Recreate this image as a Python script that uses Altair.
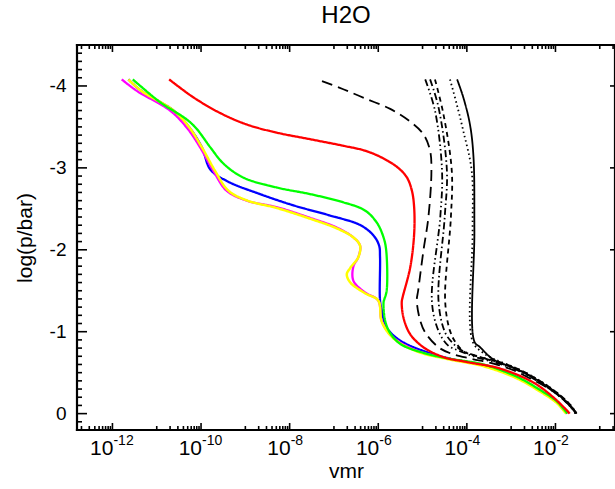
import altair as alt
import pandas as pd
import numpy as np

# ---------------- data (log10 vmr, log p/bar) ----------------
magenta_lx = [-11.79, -11.45, -10.70, -10.32, -10.02, -9.72, -9.42, -8.97, -8.29, -7.54, -6.93, -6.56, -6.41, -6.45, -6.56, -6.56, -6.30, -6.00, -5.92, -5.66, -5.13, -4.38, -3.63, -2.87, -2.35, -1.97, -1.74]
magenta_lp = [-4.08, -3.94, -3.70, -3.49, -3.25, -2.96, -2.72, -2.60, -2.52, -2.39, -2.27, -2.15, -2.05, -1.91, -1.80, -1.62, -1.48, -1.38, -1.13, -0.93, -0.77, -0.67, -0.59, -0.44, -0.28, -0.14, 0.00]

yellow_lx = [-11.64, -11.35, -10.62, -10.26, -9.98, -9.68, -9.38, -8.95, -8.29, -7.54, -6.93, -6.56, -6.41, -6.45, -6.63, -6.71, -6.63, -6.30, -6.00, -5.92, -5.66, -5.13, -4.38, -3.63, -2.87, -2.35, -1.97, -1.76]
yellow_lp = [-4.08, -3.94, -3.70, -3.49, -3.25, -2.96, -2.72, -2.60, -2.51, -2.38, -2.26, -2.15, -2.05, -1.91, -1.78, -1.70, -1.60, -1.47, -1.38, -1.12, -0.92, -0.76, -0.66, -0.58, -0.43, -0.27, -0.13, 0.00]

blue_lx = [-11.64, -11.35, -10.62, -10.26, -9.98, -9.79, -9.42, -8.67, -7.90, -7.10, -6.40, -6.10, -5.98, -5.96, -5.96, -5.92, -5.81, -5.50, -4.90, -4.38, -3.63, -2.87, -2.35, -1.97, -1.75]
blue_lp = [-4.08, -3.94, -3.70, -3.49, -3.25, -2.98, -2.84, -2.68, -2.54, -2.42, -2.30, -2.17, -2.05, -1.91, -1.38, -1.26, -1.05, -0.89, -0.75, -0.67, -0.59, -0.44, -0.28, -0.14, 0.00]

green_lx = [-11.54, -10.92, -10.32, -10.09, -9.79, -9.49, -9.04, -8.29, -7.54, -6.79, -6.30, -6.03, -5.88, -5.82, -5.81, -5.86, -5.88, -5.85, -5.75, -5.50, -4.90, -4.38, -3.63, -2.87, -2.35, -1.97, -1.73]
green_lp = [-4.08, -3.80, -3.59, -3.47, -3.25, -3.05, -2.88, -2.76, -2.68, -2.58, -2.48, -2.33, -2.15, -1.99, -1.50, -1.40, -1.36, -1.15, -1.00, -0.85, -0.73, -0.67, -0.60, -0.45, -0.29, -0.15, 0.00]

red_lx = [-10.72, -10.17, -9.57, -8.97, -8.29, -7.54, -6.79, -6.30, -5.90, -5.55, -5.35, -5.24, -5.19, -5.19, -5.28, -5.45, -5.47, -5.43, -5.28, -4.98, -4.53, -4.00, -3.25, -2.50, -2.05, -1.71, -1.68]
red_lp = [-4.08, -3.86, -3.67, -3.53, -3.43, -3.35, -3.27, -3.21, -3.12, -3.00, -2.88, -2.72, -2.52, -2.19, -1.78, -1.42, -1.36, -1.17, -0.97, -0.81, -0.69, -0.63, -0.55, -0.38, -0.20, -0.02, 0.00]

longdash_lx = [-7.27, -6.79, -6.26, -5.73, -5.29, -4.98, -4.83, -4.80, -4.87, -4.98, -5.10, -5.13, -5.05, -4.94, -4.64, -4.34, -3.90, -3.40, -2.95, -2.57, -2.05, -1.67, -1.56]
longdash_lp = [-4.06, -3.96, -3.84, -3.72, -3.57, -3.41, -3.21, -2.96, -2.39, -1.99, -1.50, -1.38, -1.13, -0.99, -0.81, -0.73, -0.67, -0.61, -0.53, -0.43, -0.27, -0.09, 0.00]

dashdotdot_lx = [-4.94, -4.72, -4.56, -4.60, -4.79, -4.64, -4.42, -4.19, -3.80, -3.40, -2.95, -2.57, -2.05, -1.67, -1.55]
dashdotdot_lp = [-4.08, -3.70, -2.96, -2.40, -1.38, -1.01, -0.83, -0.77, -0.69, -0.63, -0.55, -0.45, -0.27, -0.09, 0.00]

dashdot_lx = [-4.83, -4.64, -4.45, -4.50, -4.64, -4.49, -4.30, -4.11, -3.75, -3.40, -2.95, -2.57, -2.05, -1.67, -1.54]
dashdot_lp = [-4.08, -3.74, -2.96, -2.40, -1.38, -0.99, -0.85, -0.77, -0.70, -0.64, -0.56, -0.46, -0.28, -0.10, 0.00]

dashed_lx = [-4.72, -4.53, -4.34, -4.36, -4.49, -4.38, -4.23, -4.04, -3.70, -3.40, -2.95, -2.57, -2.05, -1.67, -1.53]
dashed_lp = [-4.08, -3.66, -2.96, -2.40, -1.38, -1.01, -0.85, -0.75, -0.69, -0.65, -0.57, -0.47, -0.29, -0.11, 0.00]

dotted_lx = [-4.38, -4.23, -4.08, -3.89, -3.87, -3.87, -3.65, -3.40, -2.95, -2.57, -2.05, -1.67, -1.52]
dotted_lp = [-4.08, -3.78, -3.45, -2.96, -2.23, -0.88, -0.75, -0.67, -0.57, -0.47, -0.29, -0.11, 0.00]

solid_lx = [-4.22, -4.08, -3.93, -3.85, -3.83, -3.83, -3.70, -3.40, -2.95, -2.57, -2.05, -1.67, -1.52]
solid_lp = [-4.08, -3.86, -3.53, -3.13, -2.23, -0.88, -0.81, -0.66, -0.56, -0.46, -0.28, -0.10, 0.00]

# series: name, lx, lp, color, dash, width (drawing order)
series = [
    ("blue", blue_lx, blue_lp, "#0000ff", [1, 0], 2.3),
    ("magenta", magenta_lx, magenta_lp, "#ff00ff", [1, 0], 2.3),
    ("yellow", yellow_lx, yellow_lp, "#ffff00", [1, 0], 2.5),
    ("green", green_lx, green_lp, "#00ff00", [1, 0], 2.3),
    ("red", red_lx, red_lp, "#ff0000", [1, 0], 2.3),
    ("longdash", longdash_lx, longdash_lp, "#000000", [11, 6], 1.8),
    ("dashdotdot", dashdotdot_lx, dashdotdot_lp, "#000000", [7, 3, 1.5, 3, 1.5, 3], 1.8),
    ("dashdot", dashdot_lx, dashdot_lp, "#000000", [7, 3, 1.5, 3], 1.8),
    ("dashed", dashed_lx, dashed_lp, "#000000", [5, 4], 1.8),
    ("dotted", dotted_lx, dotted_lp, "#000000", [1.5, 3], 1.8),
    ("solid", solid_lx, solid_lp, "#000000", [1, 0], 1.8),
]

x_major_exp = [-12, -10, -8, -6, -4, -2]
y_major = [-4, -3, -2, -1, 0]

LX_MIN, LX_MAX = -12.8, -0.656
Y_MIN, Y_MAX = -4.5, 0.2
X_MIN, X_MAX = 10 ** LX_MIN, 10 ** LX_MAX
W, H = 538, 385

FONT = "Liberation Sans"

xscale = alt.Scale(type="log", domain=[X_MIN, X_MAX], nice=False)
yscale = alt.Scale(domain=[Y_MIN, Y_MAX], reverse=True, nice=False, zero=False)

xax = alt.Axis(labels=False, ticks=False, domain=False, grid=False,
               title="vmr", titleFont=FONT, titleFontSize=21,
               titleFontWeight="normal", titleColor="black", titlePadding=30)
yax = alt.Axis(values=y_major, labelExpr="'' + datum.value", ticks=False,
               domain=False, grid=False, labelFont=FONT, labelFontSize=19,
               labelColor="black", labelPadding=11, title="log(p/bar)",
               titleFont=FONT, titleFontSize=21, titleFontWeight="normal",
               titleColor="black", titlePadding=14)

layers = []

# ---------------- data curves ----------------
for name, lx, lp, color, dash, width in series:
    df = pd.DataFrame({"lx": lx, "logp": lp, "i": range(len(lx))})
    layers.append(
        alt.Chart(df)
        .transform_calculate(vmr="pow(10, datum.lx)")
        .mark_line(color=color, strokeDash=dash, strokeWidth=width,
                   interpolate="catmull-rom", clip=True)
        .encode(x=alt.X("vmr:Q", scale=xscale, axis=xax),
                y=alt.Y("logp:Q", scale=yscale, axis=yax), order="i:Q")
    )

# ---------------- plot frame: four separate sides, same pipeline as the curves ----------------
sides = {
    "top": ([LX_MIN, LX_MAX], [Y_MIN, Y_MIN]),
    "bottom": ([LX_MIN, LX_MAX], [Y_MAX, Y_MAX]),
    "left": ([LX_MIN, LX_MIN], [Y_MIN, Y_MAX]),
    "right": ([LX_MAX, LX_MAX], [Y_MIN, Y_MAX]),
}
for side, (sx, sy) in sides.items():
    sdf = pd.DataFrame({"lx": sx, "logp": sy, "i": [0, 1]})
    layers.append(
        alt.Chart(sdf)
        .transform_calculate(vmr="pow(10, datum.lx)")
        .mark_line(color="#000000", strokeWidth=2.2, interpolate="linear", strokeCap="square")
        .encode(x=alt.X("vmr:Q", scale=xscale, axis=xax),
                y=alt.Y("logp:Q", scale=yscale, axis=yax), order="i:Q")
    )

# ---------------- ticks (inward) ----------------
x_major = [10.0 ** e for e in x_major_exp]
x_minor = []
for e in [-13, -11, -9, -7, -5, -3, -1]:
    for k in range(1, 10):
        v = k * 10.0 ** e
        if X_MIN < v < X_MAX:
            x_minor.append(v)
y_minor = [round(v, 1) for v in np.arange(-4.4, 0.2, 0.1) if abs(v - round(v)) > 1e-6]

def xticks(vals, length):
    d = pd.DataFrame({"vmr": vals})
    b = alt.Chart(d).mark_rule(color="black", strokeWidth=1.6).encode(
        x=alt.X("vmr:Q", scale=xscale, axis=xax), y=alt.value(H), y2=alt.value(H - length))
    t = alt.Chart(d).mark_rule(color="black", strokeWidth=1.6).encode(
        x=alt.X("vmr:Q", scale=xscale, axis=xax), y=alt.value(0), y2=alt.value(length))
    return [b, t]

def yticks(vals, length, right=False):
    d = pd.DataFrame({"logp": vals})
    out = [alt.Chart(d).mark_rule(color="black", strokeWidth=1.6).encode(
        y=alt.Y("logp:Q", scale=yscale, axis=yax), x=alt.value(0), x2=alt.value(length))]
    if right:
        out.append(alt.Chart(d).mark_rule(color="black", strokeWidth=1.6).encode(
            y=alt.Y("logp:Q", scale=yscale, axis=yax), x=alt.value(W), x2=alt.value(W - 5)))
    return out

layers += xticks(x_major, 7)
layers += xticks(x_minor, 4)
layers += yticks(y_major, 10, right=True)
layers += yticks(y_minor, 5)

# ---------------- x labels 10^n ----------------
lab = pd.DataFrame({"vmr": x_major, "base": ["10"] * len(x_major),
                    "exp": [str(e) for e in x_major_exp]})
layers.append(alt.Chart(lab).mark_text(font=FONT, fontSize=21, align="right",
                                       baseline="alphabetic", color="black", dx=1)
              .encode(x=alt.X("vmr:Q", scale=xscale, axis=xax), y=alt.value(H + 25), text="base:N"))
layers.append(alt.Chart(lab).mark_text(font=FONT, fontSize=14, align="left",
                                       baseline="alphabetic", color="black", dx=1)
              .encode(x=alt.X("vmr:Q", scale=xscale, axis=xax), y=alt.value(H + 15), text="exp:N"))

chart = (
    alt.layer(*layers)
    .properties(
        width=W, height=H,
        title=alt.TitleParams("H2O", font=FONT, fontSize=24, fontWeight="normal",
                              color="black", anchor="middle", offset=13),
        autosize=alt.AutoSizeParams(type="none"),
        padding={"left": 77, "top": 45, "right": 0, "bottom": 59},
        background="white",
    )
    .configure_view(stroke="black", strokeWidth=2)
)

chart.save("out.html", embed_options={"renderer": "svg", "actions": False})
